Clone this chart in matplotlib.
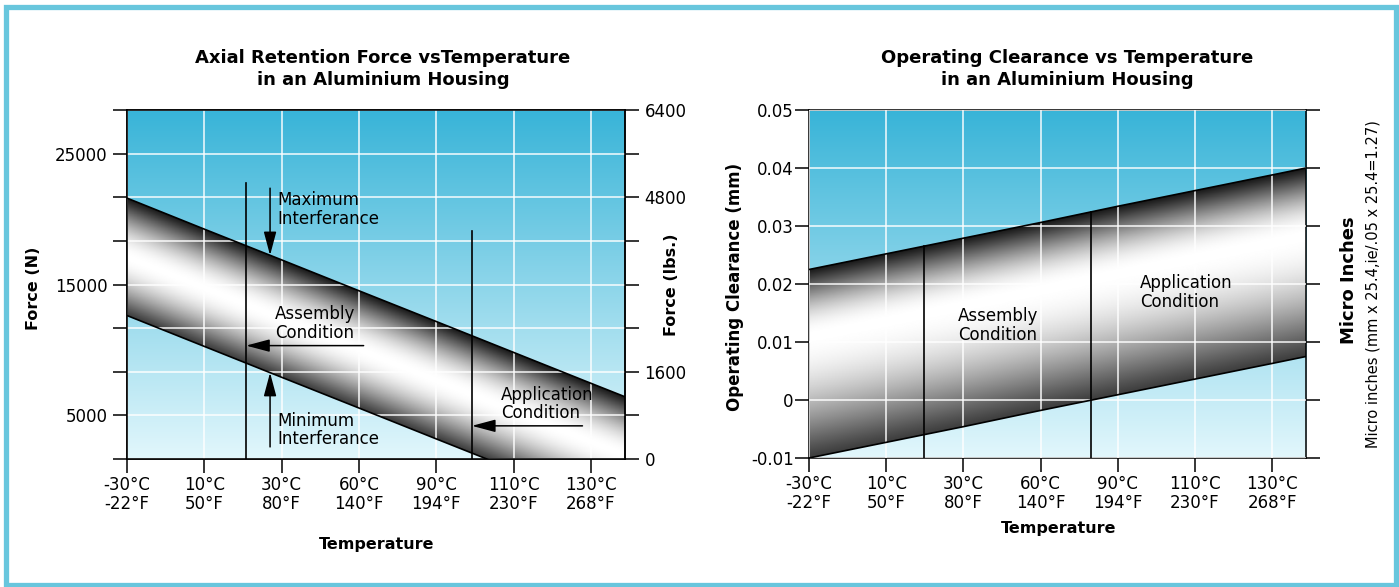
"""Axial retention force and operating clearance vs temperature in an aluminium housing."""

import matplotlib

matplotlib.use("Agg")
import matplotlib.pyplot as plt
import numpy as np
from matplotlib.patches import Rectangle

plt.rcParams["font.family"] = ["DejaVu Sans"]

TEMP_C = ["-30°C", "10°C", "30°C", "60°C", "90°C", "110°C", "130°C"]
TEMP_F = ["-22°F", "50°F", "80°F", "140°F", "194°F", "230°F", "268°F"]

# band edges read at each temperature tick, plus the right edge of the plot
BAND_POS = [0, 1, 2, 3, 4, 5, 6, 6.44]
FORCE_MAX_N = [21600, 19230, 16880, 14520, 12170, 9810, 7450, 6420]
FORCE_MIN_N = [12630, 10270, 7910, 5560, 3200, 850, -1510, -2550]
CLEAR_MAX_MM = [0.0225, 0.0252, 0.0279, 0.0306, 0.0334, 0.0361, 0.0388, 0.0400]
CLEAR_MIN_MM = [-0.0100, -0.0073, -0.0046, -0.0018, 0.0009, 0.0036, 0.0063, 0.0075]

FORCE_N_RANGE = (1667, 28333)
FORCE_N_LABELS = [5000, 15000, 25000]
FORCE_LBS_RANGE = (0, 6400)
FORCE_LBS_LABELS = [0, 1600, 4800, 6400]
CLEAR_RANGE = (-0.01, 0.05)

# condition markers on the temperature axis
FORCE_ASSEMBLY_POS = 1.54
FORCE_APPLICATION_POS = 4.46
FORCE_INTERF_POS = 1.85
CLEAR_ASSEMBLY_POS = 1.49
CLEAR_APPLICATION_POS = 3.66

BG_TOP = np.array([56, 180, 216]) / 255
BG_BOTTOM = np.array([226, 247, 252]) / 255
BORDER = "#68c6dd"

W, H = 1399, 587


def fx(px):
    return px / W


def fy(py):
    return 1 - py / H


def _background(ax, xlim, ylim):
    grad = np.linspace(0, 1, 256)[:, None, None]
    img = BG_TOP + (BG_BOTTOM - BG_TOP) * grad
    ax.imshow(img, extent=[xlim[0], xlim[1], ylim[0], ylim[1]], origin="upper",
              aspect="auto", interpolation="bilinear", zorder=0)


def _band(ax, lower, upper, peak, xlim, ylim):
    poly = ax.fill_between(BAND_POS, lower, upper, facecolor="none", edgecolor="none", zorder=1)
    gx = np.linspace(xlim[0], xlim[1], 500)
    gy = np.linspace(ylim[0], ylim[1], 500)
    X, Y = np.meshgrid(gx, gy)
    lo = np.interp(X, BAND_POS, lower)
    hi = np.interp(X, BAND_POS, upper)
    t = (Y - lo) / (hi - lo)
    d = np.where(t < peak, (peak - t) / peak, (t - peak) / (1 - peak))
    d = np.clip(d, 0, 1)
    edge = np.where(t < peak, 0.24, 0.1)
    v = edge + (1 - edge) * np.cos(d * np.pi / 2) ** 1.1
    im = ax.imshow(v, cmap="gray", vmin=0, vmax=1, origin="lower", aspect="auto",
                   extent=[xlim[0], xlim[1], ylim[0], ylim[1]], zorder=1)
    im.set_clip_path(poly.get_paths()[0], transform=ax.transData)
    ax.plot(BAND_POS, upper, color="black", lw=1.2, zorder=3)
    ax.plot(BAND_POS, lower, color="black", lw=1.2, zorder=3)


def _style(ax, xlim, ylim):
    ax.set_xlim(*xlim)
    ax.set_ylim(*ylim)
    ax.set_xticks(range(len(TEMP_C)))
    ax.set_xticklabels([f"{c}\n{f}" for c, f in zip(TEMP_C, TEMP_F)], fontsize=12, linespacing=1.1)
    ax.tick_params(direction="out", length=10, width=1.1, colors="black")
    ax.tick_params(axis="x", pad=2)
    ax.grid(True, color="white", lw=1.3, alpha=0.8)
    ax.set_axisbelow(False)
    for sp in ax.spines.values():
        sp.set_linewidth(1.1)


def _arrow(ax, start, tip):
    ax.annotate("", xy=tip, xytext=start, zorder=4,
                arrowprops=dict(arrowstyle="-|>,head_length=1.2,head_width=0.32",
                                color="black", lw=1.1, shrinkA=0, shrinkB=0, mutation_scale=12))


def force_panel(fig):
    ax = fig.add_axes([fx(127), fy(459), fx(498), 349 / H])
    xlim = (0, BAND_POS[-1])
    _background(ax, xlim, FORCE_N_RANGE)
    _band(ax, FORCE_MIN_N, FORCE_MAX_N, 0.5, xlim, FORCE_N_RANGE)
    _style(ax, xlim, FORCE_N_RANGE)

    step = (FORCE_N_LABELS[1] - FORCE_N_LABELS[0]) / 3
    yticks = [FORCE_N_LABELS[0] + k * step for k in range(-1, 8)]
    ax.set_yticks(yticks)
    ax.set_yticklabels([str(int(round(v))) if int(round(v)) in FORCE_N_LABELS else "" for v in yticks],
                       fontsize=12)
    ax.tick_params(axis="y", pad=4)

    ax2 = ax.twinx()
    ax2.set_ylim(*FORCE_LBS_RANGE)
    lbs_ticks = np.arange(FORCE_LBS_RANGE[0], FORCE_LBS_RANGE[1] + 1, 800)
    ax2.set_yticks(lbs_ticks)
    ax2.set_yticklabels([str(v) if v in FORCE_LBS_LABELS else "" for v in lbs_ticks], fontsize=12)
    ax2.tick_params(direction="out", length=10, width=1.1, pad=4)
    for sp in ax2.spines.values():
        sp.set_linewidth(1.1)

    # condition lines
    ax.plot([FORCE_ASSEMBLY_POS] * 2, [FORCE_N_RANGE[0], 22740], color="black", lw=1.2, zorder=3)
    ax.plot([FORCE_APPLICATION_POS] * 2, [FORCE_N_RANGE[0], 19060], color="black", lw=1.2, zorder=3)

    # interference arrows onto the band edges
    _arrow(ax, (FORCE_INTERF_POS, 22360), (FORCE_INTERF_POS, np.interp(FORCE_INTERF_POS, BAND_POS, FORCE_MAX_N)))
    _arrow(ax, (FORCE_INTERF_POS, 2590), (FORCE_INTERF_POS, np.interp(FORCE_INTERF_POS, BAND_POS, FORCE_MIN_N)))
    _arrow(ax, (3.06, 10330), (FORCE_ASSEMBLY_POS, 10330))
    _arrow(ax, (5.89, 4200), (FORCE_APPLICATION_POS, 4200))

    kw = dict(fontsize=12, ha="left", va="center", linespacing=1.05, zorder=4)
    ax.text(1.94, 20750, "Maximum\nInterferance", **kw)
    ax.text(1.91, 12010, "Assembly\nCondition", **kw)
    ax.text(1.94, 3890, "Minimum\nInterferance", **kw)
    ax.text(4.84, 5880, "Application\nCondition", **kw)

    fig.text(fx(383), fy(69), "Axial Retention Force vsTemperature\nin an Aluminium Housing",
             ha="center", va="center", fontsize=13, fontweight="bold", linespacing=1.25)
    fig.text(fx(377), fy(545), "Temperature", ha="center", va="center", fontsize=11.5, fontweight="bold")
    fig.text(fx(33), fy(288), "Force (N)", rotation=90, ha="center", va="center",
             fontsize=11.5, fontweight="bold")
    fig.text(fx(671), fy(285), "Force (lbs.)", rotation=90, ha="center", va="center",
             fontsize=11.5, fontweight="bold")


def clearance_panel(fig):
    ax = fig.add_axes([fx(809), fy(458), fx(497), 348 / H])
    xlim = (0, BAND_POS[-1])
    _background(ax, xlim, CLEAR_RANGE)
    _band(ax, CLEAR_MIN_MM, CLEAR_MAX_MM, 0.65, xlim, CLEAR_RANGE)
    _style(ax, xlim, CLEAR_RANGE)

    yticks = np.round(np.arange(CLEAR_RANGE[0], CLEAR_RANGE[1] + 0.001, 0.01), 2)
    ax.set_yticks(yticks)
    ax.set_yticklabels(["0" if v == 0 else f"{v:g}" for v in yticks], fontsize=12)
    ax.tick_params(axis="y", right=True, pad=1)

    for pos in (CLEAR_ASSEMBLY_POS, CLEAR_APPLICATION_POS):
        ax.plot([pos] * 2, [CLEAR_RANGE[0], np.interp(pos, BAND_POS, CLEAR_MAX_MM)],
                color="black", lw=1.2, zorder=3)

    kw = dict(fontsize=12, ha="left", va="center", linespacing=1.05, zorder=4)
    ax.text(1.93, 0.0129, "Assembly\nCondition", **kw)
    ax.text(4.29, 0.0185, "Application\nCondition", **kw)

    fig.text(fx(1067), fy(69), "Operating Clearance vs Temperature\nin an Aluminium Housing",
             ha="center", va="center", fontsize=13, fontweight="bold", linespacing=1.25)
    fig.text(fx(1059), fy(528), "Temperature", ha="center", va="center", fontsize=11.5, fontweight="bold")
    fig.text(fx(735), fy(287), "Operating Clearance (mm)", rotation=90, ha="center", va="center",
             fontsize=12, fontweight="bold")
    fig.text(fx(1349), fy(280), "Micro Inches", rotation=90, ha="center", va="center",
             fontsize=13, fontweight="bold")
    fig.text(fx(1373), fy(284), "Micro inches (mm x 25.4,ie/.05 x 25.4=1.27)", rotation=90,
             ha="center", va="center", fontsize=10.5)


def main():
    fig = plt.figure(figsize=(W / 100, H / 100), dpi=100, facecolor="white")
    force_panel(fig)
    clearance_panel(fig)
    fig.add_artist(Rectangle((fx(6.5), fy(585)), fx(1396 - 6.5), (585 - 6.5) / H,
                             transform=fig.transFigure, fill=False, edgecolor=BORDER, lw=3.8))
    fig.savefig("out.png", dpi=100)


if __name__ == "__main__":
    main()
